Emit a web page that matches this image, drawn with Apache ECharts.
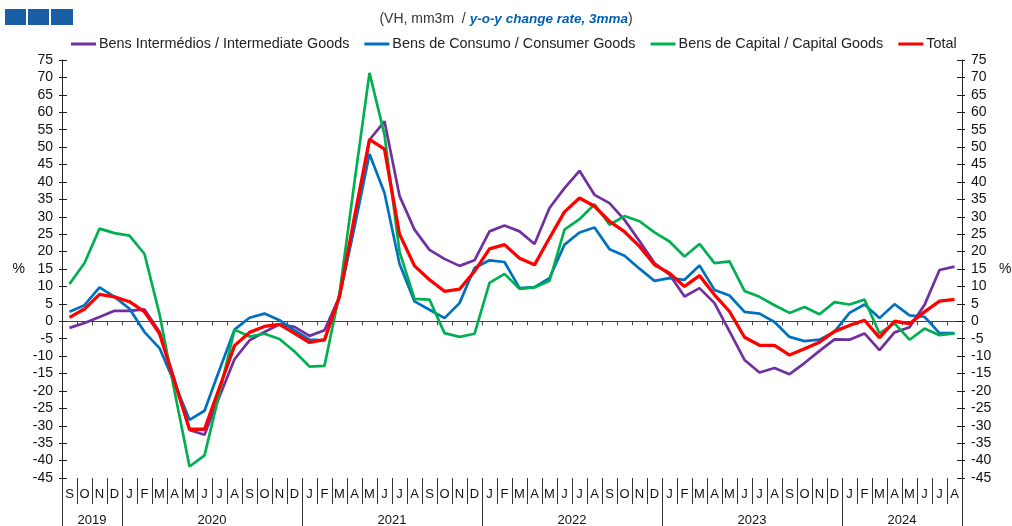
<!DOCTYPE html>
<html>
<head>
<meta charset="utf-8">
<script src="https://cdn.jsdelivr.net/npm/echarts@6/dist/echarts.min.js"></script>
<style>
html,body{margin:0;padding:0;background:#fff;overflow:hidden;}
#chart{width:1012px;height:526px;}
</style>
</head>
<body>
<div id="chart"></div>
<script>
// ---- Data ----
const periods = [
  '2019-09','2019-10','2019-11','2019-12',
  '2020-01','2020-02','2020-03','2020-04','2020-05','2020-06','2020-07','2020-08','2020-09','2020-10','2020-11','2020-12',
  '2021-01','2021-02','2021-03','2021-04','2021-05','2021-06','2021-07','2021-08','2021-09','2021-10','2021-11','2021-12',
  '2022-01','2022-02','2022-03','2022-04','2022-05','2022-06','2022-07','2022-08','2022-09','2022-10','2022-11','2022-12',
  '2023-01','2023-02','2023-03','2023-04','2023-05','2023-06','2023-07','2023-08','2023-09','2023-10','2023-11','2023-12',
  '2024-01','2024-02','2024-03','2024-04','2024-05','2024-06','2024-07','2024-08'
];
const monthLetters = ['J','F','M','A','M','J','J','A','S','O','N','D'];

const intermediate = [
  -1.9, -0.5, 1.2, 3.0,
  3.0, 3.4, -3.0, -16.8, -31.2, -32.6, -21.6, -10.9, -5.5, -3.1, -0.9, -1.6,
  -4.2, -2.6, 7.1, 28.0, 52.1, 57.4, 36.0, 26.3, 20.5, 17.9, 15.9, 17.5,
  25.8, 27.5, 25.8, 22.2, 32.5, 38.2, 43.2, 36.3, 33.9, 29.1, 23.0, 16.7,
  13.4, 7.1, 9.5, 5.2, -2.9, -11.1, -14.7, -13.4, -15.2, -12.0, -8.5, -5.2,
  -5.3, -3.5, -8.3, -3.2, -1.7, 4.7, 14.7, 15.7
];
const consumer = [
  2.7, 4.6, 9.7, 7.0,
  3.6, -3.1, -7.7, -17.7, -28.3, -25.7, -13.9, -2.4, 1.0, 2.2, 0.3, -2.6,
  -5.3, -5.5, 7.1, 27.0, 48.0, 36.8, 16.5, 5.7, 3.3, 0.9, 5.2, 15.3,
  17.5, 17.0, 9.5, 9.8, 12.4, 22.0, 25.5, 26.9, 20.7, 18.8, 15.1, 11.6,
  12.4, 11.9, 16.0, 9.0, 7.4, 2.7, 2.2, -0.2, -4.5, -5.7, -5.3, -3.0,
  2.4, 4.8, 0.9, 4.9, 1.7, 1.3, -3.4, -3.4
];
const capital = [
  10.7, 16.7, 26.6, 25.3,
  24.6, 19.3, 2.0, -20.0, -41.7, -38.5, -20.6, -2.4, -4.4, -3.6, -5.1, -8.7,
  -13.0, -12.8, 8.0, 40.0, 71.3, 53.5, 20.0, 6.4, 6.2, -3.4, -4.5, -3.6,
  11.0, 13.6, 9.3, 9.7, 11.6, 26.3, 29.3, 33.6, 27.7, 30.2, 28.7, 25.5,
  22.9, 18.6, 22.2, 16.7, 17.2, 8.7, 7.0, 4.6, 2.4, 4.1, 2.0, 5.5,
  4.8, 6.2, -3.5, -0.6, -5.3, -2.1, -4.0, -3.5
];
const total = [
  1.1, 3.5, 7.7, 7.0,
  5.6, 2.7, -3.5, -17.3, -31.0, -31.0, -19.0, -7.0, -3.2, -1.5, -0.9, -3.5,
  -6.1, -5.3, 7.1, 30.0, 52.2, 49.4, 25.0, 15.9, 11.9, 8.6, 9.2, 14.3,
  20.8, 22.0, 18.1, 16.2, 23.9, 31.4, 35.4, 33.0, 28.7, 25.7, 21.5, 16.2,
  13.8, 10.0, 13.1, 7.6, 2.8, -4.6, -6.9, -6.9, -9.7, -7.9, -6.0, -2.9,
  -1.2, 0.3, -4.7, 0.0, -0.7, 2.7, 5.8, 6.3
];
const seriesNames = [
  'Bens Intermédios / Intermediate Goods',
  'Bens de Consumo / Consumer Goods',
  'Bens de Capital / Capital Goods',
  'Total'
];
const yMin = -45, yMax = 75, yStep = 5;

// ---- derived helpers ----
const monthLabel = p => monthLetters[parseInt(p.slice(5), 10) - 1];
const isYearStart = (idx) => idx === 0 || periods[idx].slice(5) === '01';
const yearCenters = {};
(function () {
  const firstIdx = {}, lastIdx = {};
  periods.forEach((p, i) => {
    const y = p.slice(0, 4);
    if (!(y in firstIdx)) firstIdx[y] = i;
    lastIdx[y] = i;
  });
  Object.keys(firstIdx).forEach(y => {
    yearCenters[(firstIdx[y] + lastIdx[y] + 1) / 2] = y;
  });
})();

const FONT = "'Liberation Sans', Arial, sans-serif";
const NARROW = "'Liberation Sans Narrow', 'Liberation Sans', Arial, sans-serif";

const chart = echarts.init(document.getElementById('chart'), null, {renderer: 'canvas'});
const colors = ['#7030A0', '#0070C0', '#00B050', '#FF0000'];

const yAxisBase = (pos) => ({
  type: 'value', position: pos, min: yMin, max: yMax, interval: yStep,
  axisLine: {show: true, onZero: false, lineStyle: {color: '#222', width: 1}},
  axisTick: {show: true, inside: true, length: 5, lineStyle: {color: '#222'}},
  axisLabel: {color: '#111', fontSize: 14, fontFamily: FONT, margin: 9},
  splitLine: {show: false},
  name: '%', nameLocation: 'middle', nameRotate: 0, nameGap: 37,
  nameTextStyle: {color: '#111', fontSize: 14, fontFamily: FONT}
});
const yTickOnly = (pos) => ({
  type: 'value', position: pos, min: yMin, max: yMax, interval: yStep,
  axisLine: {show: false, onZero: false},
  axisTick: {show: true, inside: false, length: 3, lineStyle: {color: '#222'}},
  axisLabel: {show: false}, splitLine: {show: false}
});

chart.setOption({
  animation: false,
  color: colors,
  title: {
    text: '{a|(VH, mm3m  / }{b|y-o-y change rate, 3mma}{a|)}',
    left: 'center', top: 7,
    textStyle: {
      fontWeight: 'normal',
      rich: {
        a: {fontFamily: NARROW, fontSize: 14, color: '#333', fontWeight: 'normal'},
        b: {fontFamily: NARROW, fontSize: 13.5, color: '#0060B0', fontStyle: 'italic', fontWeight: 'bold'}
      }
    }
  },
  graphic: [
    {type: 'rect', left: 5, top: 9, shape: {width: 21, height: 16}, style: {fill: '#1B5EA8'}},
    {type: 'rect', left: 28, top: 9, shape: {width: 21, height: 16}, style: {fill: '#1B5EA8'}},
    {type: 'rect', left: 51, top: 9, shape: {width: 22, height: 16}, style: {fill: '#1B5EA8'}}
  ],
  legend: {
    top: 32, left: 66,
    icon: 'rect', itemWidth: 25, itemHeight: 3, itemGap: 15,
    textStyle: {fontFamily: NARROW, fontSize: 14.4, color: '#222', padding: [0, 0, 0, -2]},
    data: seriesNames
  },
  grid: {left: 62, right: 50, top: 60, bottom: 48, containLabel: false, outerBoundsMode: 'none'},
  xAxis: [
    { // month letters at bottom
      type: 'category', data: periods, position: 'bottom', boundaryGap: true,
      axisLine: {show: false, onZero: false},
      axisTick: {show: true, interval: 0, length: 26, lineStyle: {color: '#333'}},
      axisLabel: {interval: 0, margin: 10, fontSize: 13, color: '#111', fontFamily: FONT, formatter: monthLabel},
      splitLine: {show: false}
    },
    { // zero line
      type: 'category', data: periods, position: 'bottom', boundaryGap: true,
      axisLine: {show: true, onZero: true, lineStyle: {color: '#444', width: 1}},
      axisTick: {show: true, interval: 0, length: 4, lineStyle: {color: '#444'}},
      axisLabel: {show: false}, splitLine: {show: false}
    },
    { // year separators
      type: 'category', data: periods, position: 'bottom', boundaryGap: true,
      axisLine: {show: false, onZero: false},
      axisTick: {show: true, length: 48, interval: (idx) => isYearStart(idx), lineStyle: {color: '#333'}},
      axisLabel: {show: false}, splitLine: {show: false}
    },
    { // year labels
      type: 'value', min: 0, max: periods.length, interval: 2, position: 'bottom',
      axisLine: {show: false, onZero: false}, axisTick: {show: false}, splitLine: {show: false},
      axisLabel: {margin: 36, fontSize: 13, color: '#111', fontFamily: FONT,
        formatter: v => yearCenters[v] || ''}
    }
  ],
  yAxis: [yAxisBase('left'), yAxisBase('right'), yTickOnly('left'), yTickOnly('right')],
  series: [
    {name: seriesNames[0], type: 'line', data: intermediate, symbol: 'none', lineStyle: {width: 2.7, color: colors[0]}, z: 2},
    {name: seriesNames[1], type: 'line', data: consumer, symbol: 'none', lineStyle: {width: 2.7, color: colors[1]}, z: 3},
    {name: seriesNames[2], type: 'line', data: capital, symbol: 'none', lineStyle: {width: 2.7, color: colors[2]}, z: 4},
    {name: seriesNames[3], type: 'line', data: total, symbol: 'none', lineStyle: {width: 3.3, color: colors[3]}, z: 5}
  ]
});
</script>
</body>
</html>
